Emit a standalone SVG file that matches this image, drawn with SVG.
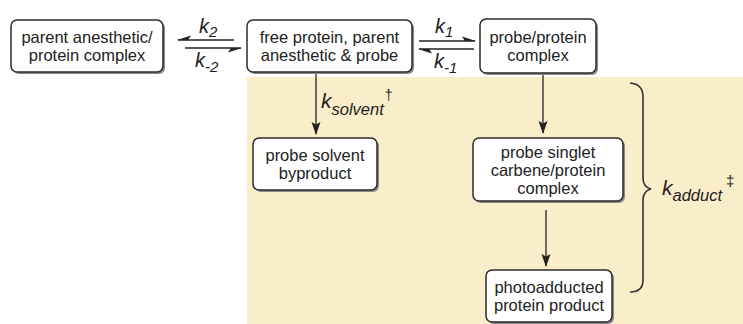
<svg xmlns="http://www.w3.org/2000/svg" width="743" height="324" viewBox="0 0 743 324">
  <style>
    .box { fill: #ffffff; stroke: #2b2b2b; stroke-width: 1.5; }
    .shadow { fill: #8a8a8a; }
    .label { font-family: "Liberation Sans", Arial, sans-serif; font-size: 16.5px; fill: #222222; text-anchor: middle; }
    .k { font-family: "Liberation Sans", Arial, sans-serif; font-style: italic; fill: #222222; }
    .line { stroke: #222222; stroke-width: 1.3; fill: none; }
    .brace { stroke: #333333; stroke-width: 1.6; fill: none; }
  </style>
  <defs>
    <!-- half arrowheads (harpoons): barb on the left or right side of travel -->
    <marker id="harpoonL" markerUnits="userSpaceOnUse" viewBox="-14 -6 16 12" markerWidth="16" markerHeight="12" refX="0" refY="0" orient="auto">
      <path d="M1,0 L-13,-4.5 L-10,0 Z" fill="#222222"/>
    </marker>
    <marker id="harpoonR" markerUnits="userSpaceOnUse" viewBox="-14 -6 16 12" markerWidth="16" markerHeight="12" refX="0" refY="0" orient="auto">
      <path d="M1,0 L-13,4.5 L-10,0 Z" fill="#222222"/>
    </marker>
    <marker id="arrow" markerUnits="userSpaceOnUse" viewBox="-14 -6 16 12" markerWidth="16" markerHeight="12" refX="0" refY="0" orient="auto">
      <path d="M1,0 L-12,-4.5 L-9.5,0 L-12,4.5 Z" fill="#222222"/>
    </marker>
  </defs>

  <!-- shaded reaction region -->
  <rect x="247" y="77" width="496" height="247" fill="#faedc9"/>

  <g id="connectors">
    <!-- k2 / k-2 equilibrium -->
    <line class="line" x1="234" y1="40" x2="178" y2="40" marker-end="url(#harpoonR)"/>
    <line class="line" x1="185" y1="48" x2="241" y2="48" marker-end="url(#harpoonR)"/>
    <!-- k1 / k-1 equilibrium -->
    <line class="line" x1="419" y1="41" x2="475" y2="41" marker-end="url(#harpoonL)"/>
    <line class="line" x1="474" y1="49" x2="419" y2="49" marker-end="url(#harpoonL)"/>
    <!-- vertical steps -->
    <line class="line" x1="316" y1="74" x2="316" y2="134" marker-end="url(#arrow)"/>
    <line class="line" x1="543" y1="75" x2="543" y2="133" marker-end="url(#arrow)"/>
    <line class="line" x1="546" y1="210" x2="546" y2="266" marker-end="url(#arrow)"/>
    <!-- brace grouping the adduct steps -->
    <path class="brace" d="M630,83 Q643,84 643,97 L643,178 Q643,187 651,189 Q643,191 643,200 L643,280 Q643,292 630,292"/>

    <!-- rate constant labels -->
    <text class="k" x="199" y="33" font-size="20">k<tspan font-size="15" dy="4">2</tspan></text>
    <text class="k" x="195" y="67" font-size="20">k<tspan font-size="15" dy="5">-2</tspan></text>
    <text class="k" x="435" y="33" font-size="20">k<tspan font-size="15" dy="4">1</tspan></text>
    <text class="k" x="434" y="68" font-size="20">k<tspan font-size="15" dy="5">-1</tspan></text>
    <text class="k" x="321" y="108" font-size="21">k<tspan font-size="16.5" dy="7">solvent</tspan><tspan font-size="14" font-style="normal" dx="1" dy="-15">†</tspan></text>
    <text class="k" x="662" y="195" font-size="21">k<tspan font-size="16.5" dy="6">adduct</tspan><tspan font-size="15" font-style="normal" dx="4" dy="-15">‡</tspan></text>
  </g>

  <g id="parent-complex">
    <rect class="shadow" x="13" y="22" width="152" height="52" rx="6"/>
    <rect class="box" x="11" y="20" width="152" height="52" rx="6"/>
    <text class="label" x="87" y="43">parent anesthetic/</text>
    <text class="label" x="87" y="61">protein complex</text>
  </g>

  <g id="free-protein">
    <rect class="shadow" x="249" y="22" width="165" height="52" rx="6"/>
    <rect class="box" x="247" y="20" width="165" height="52" rx="6"/>
    <text class="label" x="329.5" y="43">free protein, parent</text>
    <text class="label" x="329.5" y="61">anesthetic &amp; probe</text>
  </g>

  <g id="probe-protein-complex">
    <rect class="shadow" x="482" y="21" width="116" height="54" rx="6"/>
    <rect class="box" x="480" y="19" width="116" height="54" rx="6"/>
    <text class="label" x="538" y="43">probe/protein</text>
    <text class="label" x="538" y="61">complex</text>
  </g>

  <g id="solvent-byproduct">
    <rect class="shadow" x="255" y="140" width="124" height="52" rx="6"/>
    <rect class="box" x="253" y="138" width="124" height="52" rx="6"/>
    <text class="label" x="315" y="161">probe solvent</text>
    <text class="label" x="315" y="179">byproduct</text>
  </g>

  <g id="carbene-complex">
    <rect class="shadow" x="475" y="140" width="150" height="63" rx="6"/>
    <rect class="box" x="473" y="138" width="150" height="63" rx="6"/>
    <text class="label" x="548" y="157.5">probe singlet</text>
    <text class="label" x="548" y="175.5">carbene/protein</text>
    <text class="label" x="548" y="193.5">complex</text>
  </g>

  <g id="photoadduct">
    <rect class="shadow" x="488" y="272" width="126" height="52" rx="6"/>
    <rect class="box" x="486" y="270" width="126" height="52" rx="6"/>
    <text class="label" x="549" y="293">photoadducted</text>
    <text class="label" x="549" y="311">protein product</text>
  </g>
</svg>
